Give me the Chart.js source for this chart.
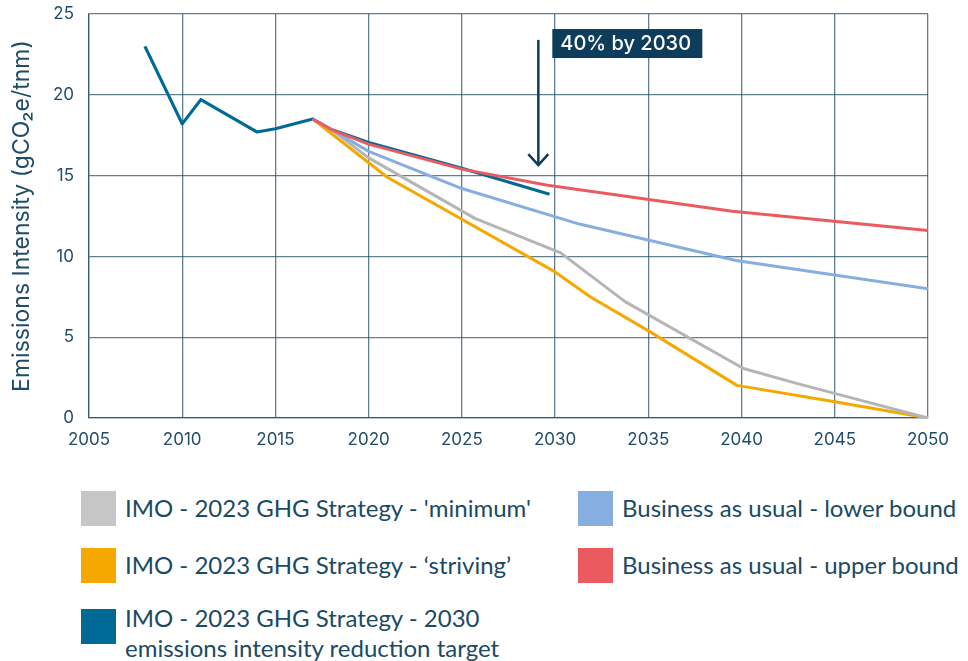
<!DOCTYPE html>
<html>
<head>
<meta charset="utf-8">
<script src="https://cdn.jsdelivr.net/npm/chart.js@4/dist/chart.umd.min.js"></script>
<style>
  html, body { margin: 0; padding: 0; background: #ffffff; }
  #wrap { position: relative; width: 968px; height: 661px; overflow: hidden; }
  #chartBox { position: absolute; left: 0; top: 0; width: 968px; height: 461px; }
  #legend { position: absolute; left: 81px; top: 491px; display: grid;
    grid-template-columns: 497px 390px; grid-template-rows: 57px 61px auto; }
  .item { position: relative; height: 35px; }
  .sw { position: absolute; left: 0; top: 0; width: 35px; height: 35px; }
  .tx { position: absolute; left: 44px; top: 2px; font-family: Lato, sans-serif; font-size: 24px;
    line-height: 30px; color: #1b4a63; white-space: pre; }
  .tx.two { top: -6px; }
</style>
</head>
<body>
<div id="wrap">
  <div id="chartBox"><canvas id="c"></canvas></div>
  <div id="legend"></div>
</div>
<script>
// ---- Data ----
const targetYears   = [2008, 2010, 2011, 2014, 2015, 2017, 2018, 2020, 2025, 2029.7];
const targetValues  = [23.0, 18.2, 19.7, 17.7, 17.9, 18.5, 17.85, 17.05, 15.45, 13.85];

const upperYears    = [2017, 2018, 2020, 2025, 2029.6, 2039.5, 2050];
const upperValues   = [18.5, 17.85, 16.95, 15.4, 14.4, 12.8, 11.6];

const lowerYears    = [2017, 2018, 2020, 2025, 2031.3, 2039.7, 2050];
const lowerValues   = [18.5, 17.85, 16.5, 14.2, 12.0, 9.75, 8.0];

const minimumYears  = [2017, 2018, 2020, 2025.7, 2030.3, 2033.75, 2040.1, 2043, 2050];
const minimumValues = [18.5, 17.85, 16.1, 12.35, 10.22, 7.2, 3.06, 2.13, 0];

const strivingYears  = [2017, 2021, 2030, 2031.9, 2035.1, 2039.75, 2045, 2050];
const strivingValues = [18.5, 14.9, 9.04, 7.49, 5.33, 2.02, 1.0, 0];

const xTicks = [2005, 2010, 2015, 2020, 2025, 2030, 2035, 2040, 2045, 2050];
const yTicks = [0, 5, 10, 15, 20, 25];

const labels = {
  minimum: "IMO - 2023 GHG Strategy - 'minimum'",
  lower: "Business as usual - lower bound",
  striving: "IMO - 2023 GHG Strategy - \u2018striving\u2019",
  upper: "Business as usual - upper bound",
  target: "IMO - 2023 GHG Strategy - 2030\nemissions intensity reduction target"
};

const annotationText = "40% by 2030";
const arrowX = 2029.1, arrowFrom = 23.4, arrowTo = 15.65;
const boxX = 2029.85, boxY = 24.07;

// ---- build ----
const pts = (xs, ys) => xs.map((x, i) => ({ x: x, y: ys[i] }));
const colors = { minimum: '#b5b5b5', lower: '#86aee0', striving: '#f5a800', upper: '#ea5a5f', target: '#006a96' };
const swatch = { minimum: '#c6c6c6', lower: '#86aee0', striving: '#f5a800', upper: '#ea5a5f', target: '#006a96' };

const datasets = [
  { key: 'upper', label: labels.upper, data: pts(upperYears, upperValues), borderColor: colors.upper, borderWidth: 3 },
  { key: 'lower', label: labels.lower, data: pts(lowerYears, lowerValues), borderColor: colors.lower, borderWidth: 3 },
  { key: 'minimum', label: labels.minimum, data: pts(minimumYears, minimumValues), borderColor: colors.minimum, borderWidth: 3 },
  { key: 'striving', label: labels.striving, data: pts(strivingYears, strivingValues), borderColor: colors.striving, borderWidth: 3 },
  { key: 'target', label: labels.target, data: pts(targetYears, targetValues), borderColor: colors.target, borderWidth: 3.2 }
].map(d => Object.assign(d, { pointRadius: 0, fill: false, tension: 0, borderJoinStyle: 'round', borderCapStyle: 'butt' }));

const annot = {
  id: 'annot',
  afterDatasetsDraw(chart) {
    const { ctx, scales: { x, y } } = chart;
    const ax = x.getPixelForValue(arrowX);
    const y0 = y.getPixelForValue(arrowFrom), y1 = y.getPixelForValue(arrowTo);
    ctx.save();
    ctx.strokeStyle = '#0d3d5a';
    ctx.lineWidth = 2.5;
    ctx.lineCap = 'butt';
    ctx.beginPath(); ctx.moveTo(ax, y0); ctx.lineTo(ax, y1 - 1); ctx.stroke();
    ctx.beginPath(); ctx.moveTo(ax - 10, y1 - 11); ctx.lineTo(ax, y1); ctx.lineTo(ax + 10, y1 - 11); ctx.stroke();
    const bx = x.getPixelForValue(boxX), by = y.getPixelForValue(boxY);
    ctx.fillStyle = '#0d3d5a';
    ctx.fillRect(bx, by, 150, 29);
    ctx.fillStyle = '#ffffff';
    ctx.font = '500 20px Inter, sans-serif';
    ctx.textBaseline = 'middle';
    ctx.textAlign = 'left';
    ctx.fillText(annotationText, bx + 8, by + 15);
    ctx.restore();
  }
};

const gridColor = 'rgba(38,78,104,0.72)';
const tickColor = '#1f4c68';

new Chart(document.getElementById('c'), {
  type: 'line',
  data: { datasets },
  options: {
    responsive: true,
    maintainAspectRatio: false,
    animation: false,
    layout: { padding: { top: 14, right: 40, left: 0, bottom: 0 } },
    plugins: { legend: { display: false }, tooltip: { enabled: false } },
    scales: {
      x: {
        type: 'linear', min: 2005, max: 2050,
        afterBuildTicks: s => { s.ticks = xTicks.map(v => ({ value: v })); },
        afterFit: s => { s.height = 43; },
        grid: { color: gridColor, lineWidth: 1.3, drawTicks: false },
        border: { color: gridColor, width: 1.3 },
        ticks: { color: tickColor, font: { family: 'Inter, sans-serif', size: 17 }, padding: 12, maxRotation: 0, callback: v => String(v) }
      },
      y: {
        min: 0, max: 25,
        afterBuildTicks: s => { s.ticks = yTicks.map(v => ({ value: v })); },
        afterFit: s => { s.width = 89; s.paddingTop = 0; s.paddingBottom = 0; },
        grid: { color: gridColor, lineWidth: 1.3, drawTicks: false },
        border: { color: gridColor, width: 1.3 },
        ticks: { color: tickColor, font: { family: 'Inter, sans-serif', size: 17 }, padding: 15 },
        title: { display: true, text: 'Emissions Intensity (gCO\u2082e/tnm)', color: tickColor,
                 font: { family: 'Inter, sans-serif', size: 23 }, padding: { top: 8, bottom: 0 } }
      }
    }
  },
  plugins: [annot]
});

// ---- HTML legend built from the datasets ----
const order = ['minimum', 'lower', 'striving', 'upper', 'target'];
const leg = document.getElementById('legend');
order.forEach(k => {
  const ds = datasets.find(d => d.key === k);
  const it = document.createElement('div'); it.className = 'item';
  const sw = document.createElement('div'); sw.className = 'sw'; sw.style.background = swatch[k];
  const tx = document.createElement('div'); tx.className = 'tx' + (ds.label.indexOf('\n') >= 0 ? ' two' : ''); tx.textContent = ds.label;
  it.appendChild(sw); it.appendChild(tx); leg.appendChild(it);
});
</script>
</body>
</html>
